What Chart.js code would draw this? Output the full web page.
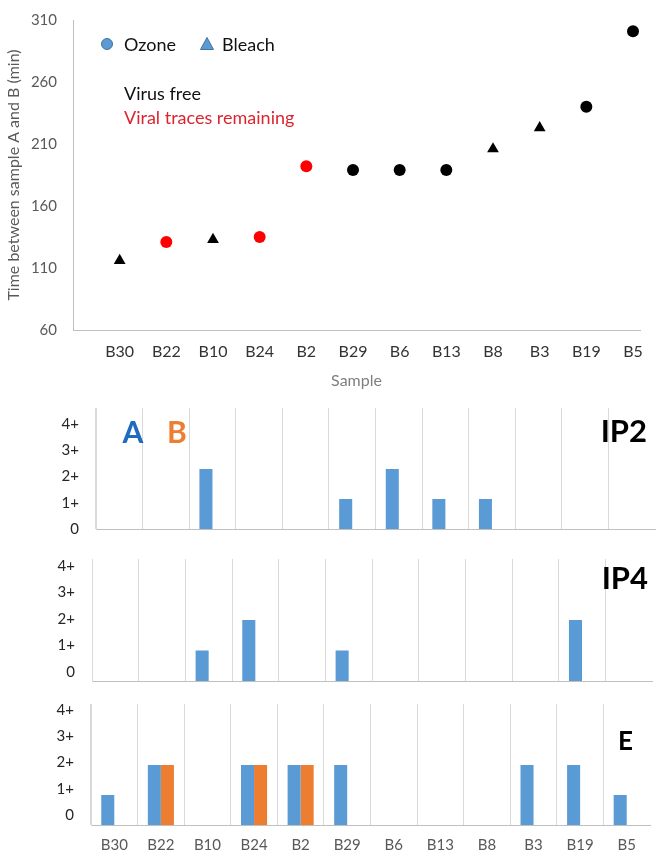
<!DOCTYPE html>
<html>
<head>
<meta charset="utf-8">
<script src="https://cdn.jsdelivr.net/npm/chart.js@4.4.1/dist/chart.umd.min.js"></script>
<style>
  body { margin: 0; background: #fff; }
  canvas { position: absolute; left: 0; }
</style>
</head>
<body>
<canvas id="tiempos" width="661" height="395" style="top:0px"></canvas>
<canvas id="panelIP2" width="661" height="150" style="top:395px"></canvas>
<canvas id="panelIP4" width="661" height="150" style="top:545px"></canvas>
<canvas id="panelE" width="661" height="157" style="top:695px"></canvas>
<script>
// Datos
const samples = ['B30', 'B22', 'B10', 'B24', 'B2', 'B29', 'B6', 'B13', 'B8', 'B3', 'B19', 'B5'];
const times = [116, 131, 133, 135, 192, 189, 189, 189, 206, 223, 240, 301];
const treatments = ['Bleach', 'Ozone', 'Bleach', 'Ozone', 'Ozone', 'Ozone', 'Ozone', 'Ozone', 'Bleach', 'Bleach', 'Ozone', 'Ozone'];
const viralTraces = [false, true, false, true, true, false, false, false, false, false, false, false];
const timeTicks = [60, 110, 160, 210, 260, 310];
const levelLabels = ['0', '1+', '2+', '3+', '4+'];

// Niveles por muestra (A = azul, B = naranja)
const ip2A = [0, 0, 2.28, 0, 0, 1.14, 2.28, 1.14, 1.14, 0, 0, 0];
const ip2B = [0, 0, 0, 0, 0, 0, 0, 0, 0, 0, 0, 0];
const ip4A = [0, 0, 1.15, 2.3, 0, 1.15, 0, 0, 0, 0, 2.3, 0];
const ip4B = [0, 0, 0, 0, 0, 0, 0, 0, 0, 0, 0, 0];
const eA = [1.14, 2.28, 0, 2.28, 2.28, 2.28, 0, 0, 0, 2.28, 2.28, 1.14];
const eB = [0, 2.28, 0, 2.28, 2.28, 0, 0, 0, 0, 0, 0, 0];

Chart.defaults.font.family = 'Lato, "Open Sans", sans-serif';

// Texto libre dibujado sobre el canvas
const textPlugin = {
    id: 'textos',
    afterDraw(chart, args, opts) {
        const ctx = chart.ctx;
        ctx.save();
        (opts.items || []).forEach(item => {
            if (item.marker === 'circle') {
                ctx.beginPath();
                ctx.arc(item.x, item.y, 5.5, 0, Math.PI * 2);
                ctx.fillStyle = '#5B9BD5';
                ctx.fill();
                ctx.strokeStyle = '#41719C';
                ctx.lineWidth = 1;
                ctx.stroke();
                return;
            }
            if (item.marker === 'triangle') {
                ctx.beginPath();
                ctx.moveTo(item.x, item.y - 6.5);
                ctx.lineTo(item.x + 6.5, item.y + 5.5);
                ctx.lineTo(item.x - 6.5, item.y + 5.5);
                ctx.closePath();
                ctx.fillStyle = '#5B9BD5';
                ctx.fill();
                ctx.strokeStyle = '#41719C';
                ctx.lineWidth = 1;
                ctx.stroke();
                return;
            }
            ctx.font = item.font;
            ctx.fillStyle = item.color;
            ctx.textAlign = item.align || 'left';
            ctx.textBaseline = 'alphabetic';
            ctx.fillText(item.text, item.x, item.y);
        });
        ctx.restore();
    }
};

// Conjunto de puntos por tratamiento
function makeSet(treatment, style, radius) {
    const data = [];
    const colors = [];
    samples.forEach((s, i) => {
        if (treatments[i] === treatment) {
            data.push({ x: i + 1, y: times[i] });
            colors.push(viralTraces[i] ? '#FF0000' : '#000000');
        }
    });
    return {
        label: treatment,
        data: data,
        pointStyle: style,
        pointRadius: radius,
        pointBackgroundColor: colors,
        pointBorderColor: colors,
        pointBorderWidth: 0,
        showLine: false
    };
}

// El eje vertical no debe empujar el area del grafico
function fixedWidth(w) {
    return scale => {
        scale.width = w;
        scale.paddingTop = 0;
        scale.paddingBottom = 0;
    };
}

new Chart(document.getElementById('tiempos'), {
    type: 'scatter',
    data: {
        datasets: [makeSet('Ozone', 'circle', 6), makeSet('Bleach', 'triangle', 6.8)]
    },
    options: {
        responsive: false,
        animation: false,
        layout: { padding: { top: 20, right: 21, bottom: 1, left: 0 } },
        plugins: {
            legend: { display: false },
            tooltip: { enabled: false },
            textos: {
                items: [
                    { marker: 'circle', x: 107, y: 44 },
                    { text: 'Ozone', x: 124, y: 51, font: '18px Lato', color: '#111' },
                    { marker: 'triangle', x: 207, y: 44 },
                    { text: 'Bleach', x: 222, y: 51, font: '18px Lato', color: '#111' },
                    { text: 'Virus free', x: 124, y: 100, font: '18px Lato', color: '#111' },
                    { text: 'Viral traces remaining', x: 124, y: 124, font: '18px Lato', color: '#DC2430' }
                ]
            }
        },
        scales: {
            x: {
                type: 'linear',
                min: 0,
                max: 12.15,
                afterBuildTicks: scale => { scale.ticks = samples.map((s, i) => ({ value: i + 1 })); },
                ticks: {
                    callback: v => samples[v - 1],
                    color: '#333',
                    font: { size: 16 },
                    padding: 12,
                    maxRotation: 0,
                    autoSkip: false
                },
                grid: { display: false, drawTicks: false },
                border: { color: '#bfbfbf' },
                title: { display: true, text: 'Sample', color: '#7f7f7f', font: { size: 16 } },
                afterFit: scale => { scale.height = 64; }
            },
            y: {
                min: 60,
                max: 310,
                afterBuildTicks: scale => { scale.ticks = timeTicks.map(v => ({ value: v })); },
                ticks: { color: '#595959', font: { size: 15 }, padding: 16 },
                grid: { display: false, drawTicks: false },
                border: { color: '#bfbfbf' },
                title: { display: true, text: 'Time between sample A and B (min)', color: '#595959', font: { size: 16 } },
                afterFit: fixedWidth(73)
            }
        }
    },
    plugins: [textPlugin]
});

// Paneles de barras IP2, IP4 y E
function makePanel(id, dataA, dataB, cfg) {
    return new Chart(document.getElementById(id), {
        type: 'bar',
        data: {
            labels: samples,
            datasets: [
                { label: 'A', data: dataA, backgroundColor: '#5B9BD5' },
                { label: 'B', data: dataB, backgroundColor: '#ED7D31' }
            ]
        },
        options: {
            responsive: false,
            animation: false,
            layout: { padding: { top: cfg.top, right: cfg.right, bottom: 0, left: 0 } },
            datasets: { bar: { categoryPercentage: 0.56, barPercentage: 1 } },
            plugins: {
                legend: { display: false },
                tooltip: { enabled: false },
                textos: { items: cfg.texts }
            },
            scales: {
                x: {
                    grid: {
                        offset: true,
                        drawTicks: false,
                        color: c => c.type === 'tick' ? '#d9d9d9' : 'rgba(0,0,0,0)'
                    },
                    border: { color: '#bfbfbf' },
                    ticks: {
                        display: cfg.showLabels,
                        color: '#595959',
                        font: { size: 15 },
                        padding: 11,
                        maxRotation: 0,
                        autoSkip: false
                    },
                    afterFit: scale => { scale.height = cfg.bottom; }
                },
                y: {
                    min: 0,
                    max: 4.6,
                    afterBuildTicks: scale => { scale.ticks = levelLabels.map((l, i) => ({ value: i })); },
                    ticks: {
                        callback: v => levelLabels[v],
                        color: '#262626',
                        font: { size: 15 },
                        padding: 17,
                        labelOffset: cfg.labelOffset
                    },
                    grid: { display: false, drawTicks: false },
                    border: { color: '#d9d9d9' },
                    afterFit: fixedWidth(cfg.left)
                }
            }
        },
        plugins: [textPlugin]
    });
}

makePanel('panelIP2', ip2A, ip2B, {
    top: 13, bottom: 16, left: 96, right: 6, labelOffset: 0, showLabels: false,
    texts: [
        { text: 'A', x: 133, y: 48, font: 'bold 30px Lato', color: '#1E6BBF', align: 'center' },
        { text: 'B', x: 177, y: 48, font: 'bold 30px Lato', color: '#ED7D31', align: 'center' },
        { text: 'IP2', x: 647, y: 47, font: 'bold 31px Lato', color: '#000', align: 'right' }
    ]
});

makePanel('panelIP4', ip4A, ip4B, {
    top: 14, bottom: 14, left: 92, right: 9, labelOffset: -9, showLabels: false,
    texts: [
        { text: 'IP4', x: 648, y: 44, font: 'bold 31px Lato', color: '#000', align: 'right' }
    ]
});

makePanel('panelE', eA, eB, {
    top: 9, bottom: 27, left: 91, right: 11, labelOffset: -10, showLabels: true,
    texts: [
        { text: 'E', x: 633, y: 55, font: 'bold 26px Lato', color: '#000', align: 'right' }
    ]
});
</script>
</body>
</html>
